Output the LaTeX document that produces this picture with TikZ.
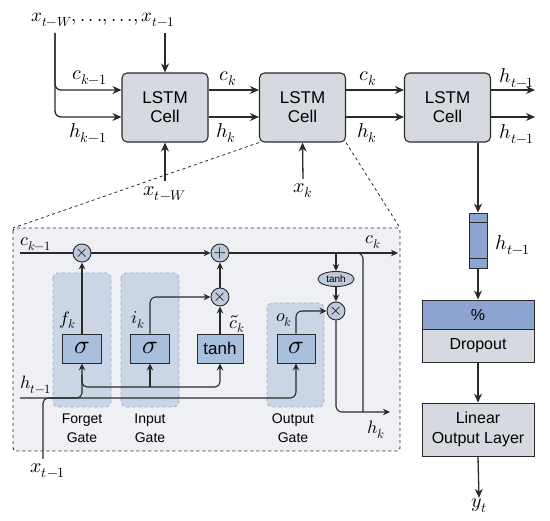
\documentclass[tikz,border=0pt]{standalone}
\usepackage{fontspec}
\usepackage{unicode-math}
\setsansfont{Liberation Sans}
\usetikzlibrary{arrows.meta, positioning, calc, shapes.geometric}
\definecolor{cellgray}{HTML}{D6DAE0}
\definecolor{inkline}{HTML}{2A2A2A}
\definecolor{panelbg}{HTML}{EEF0F4}
\definecolor{zonefill}{HTML}{CAD6E6}
\definecolor{zoneedge}{HTML}{9DAEC4}
\definecolor{gateblue}{HTML}{A8C0DB}
\definecolor{opfill}{HTML}{BDCADB}
\definecolor{vecblue}{HTML}{8EA4D0}
\newcommand{\sdots}{.\,.\,.}
\tikzset{
	cell/.style={draw=inkline, fill=cellgray, rounded corners=5pt, line width=1.1pt,
		minimum width=86pt, minimum height=69pt, align=center,
		font=\sffamily\fontsize{17}{19}\selectfont}
}
\tikzset{
	flow/.style={draw=inkline, line width=1.3pt, -{Stealth[length=9pt,width=8pt]}},
	iflow/.style={draw=inkline, line width=1.1pt, -{Stealth[length=7pt,width=6.5pt]}},
	wire/.style={draw=inkline, line width=1.1pt},
	mlbl/.style={font=\fontsize{20}{22}\selectfont, inner sep=1pt},
	ilbl/.style={font=\fontsize{18}{20}\selectfont, inner sep=1pt},
	gatebox/.style={draw=inkline, fill=gateblue, line width=0.9pt, minimum width=39pt,
		minimum height=29pt, inner sep=0pt, font=\fontsize{26}{28}\selectfont},
	opnode/.style={circle, draw=inkline, fill=opfill, line width=0.9pt, minimum size=18pt,
		inner sep=0pt, font=\fontsize{17}{18}\selectfont},
	gatezone/.style={draw=zoneedge, fill=zonefill, dashed, line width=0.8pt, rounded corners=5pt},
	gatetext/.style={font=\sffamily\fontsize{14}{19}\selectfont, align=center},
	headbox/.style={draw=inkline, line width=0.9pt, minimum width=112pt, inner sep=0pt,
		font=\sffamily\fontsize{16}{20}\selectfont, align=center}
}

\begin{document}
\begin{tikzpicture}[x=1pt, y=-1pt]
  \useasboundingbox (0,0) rectangle (550,521);
  \coordinate (rowc) at (0,90);
  \coordinate (rowh) at (0,117);

  % unrolled LSTM chain
  \node[mlbl, font=\fontsize{19}{21}\selectfont] (xseq) at (103,20) {$x_{t-W},\sdots,\sdots,x_{t-1}$};
  \coordinate (seqL) at (55,33);
  \coordinate (seqR) at (165,33);
  \node[cell] (cellA) at (165,107.5) {LSTM\\Cell};
  \node[cell] (cellB) at (302.5,107.5) {LSTM\\Cell};
  \node[cell] (cellC) at (447.5,107.5) {LSTM\\Cell};

  \draw[flow, rounded corners=6pt] (seqL) |- (cellA.west |- rowc);
  \draw[flow, rounded corners=6pt] (seqL) |- (cellA.west |- rowh);
  \draw[flow] (seqR) -- (cellA.north);
  \draw[flow] (cellA.east |- rowc) -- (cellB.west |- rowc);
  \draw[flow] (cellA.east |- rowh) -- (cellB.west |- rowh);
  \draw[flow] (cellB.east |- rowc) -- (cellC.west |- rowc);
  \draw[flow] (cellB.east |- rowh) -- (cellC.west |- rowh);
  \coordinate (outc) at (535,90);
  \coordinate (outh) at (535,117);
  \draw[flow] (cellC.east |- rowc) -- (outc);
  \draw[flow] (cellC.east |- rowh) -- (outh);

  \node[mlbl] (lck1) at (90,78) {$c_{k-1}$};
  \node[mlbl] (lhk1) at (88,133) {$h_{k-1}$};
  \node[mlbl] (lcA) at (228,79) {$c_k$};
  \node[mlbl] (lhA) at (226,133) {$h_k$};
  \node[mlbl] (lcB) at (368,79) {$c_k$};
  \node[mlbl] (lhB) at (367,133) {$h_k$};
  \node[mlbl] (loc) at (517,78) {$h_{t-1}$};
  \node[mlbl] (loh) at (517,134) {$h_{t-1}$};

  \node[mlbl] (xW) at (165,194) {$x_{t-W}$};
  \node[mlbl] (xk) at (303,191) {$x_k$};
  \draw[flow] (165,181) -- (cellA.south);
  \draw[flow] (303,179) -- (cellB.south);

  % zoomed cell
  \coordinate (pNW) at (13,228);
  \coordinate (pSE) at (400,451);
  \draw[inkline, dashed, line width=0.9pt, fill=panelbg, rounded corners=3pt] (pNW) rectangle (pSE);
  \draw[inkline, dashed, line width=0.8pt] (cellB.south west) -- (pNW);
  \draw[inkline, dashed, line width=0.8pt] (cellB.south east) -- (pNW -| pSE);

  \foreach \xa/\xb/\ya in {53/111/273, 121/179/273, 267/324/303}
    \draw[gatezone] (\xa,\ya) rectangle (\xb,407);

  \node[gatebox] (fsig) at (82,348.5) {$\sigma$};
  \node[gatebox] (isig) at (150,348.5) {$\sigma$};
  \node[gatebox, minimum width=46pt, font=\sffamily\fontsize{17}{19}\selectfont] (tbox) at (220,348.5) {tanh};
  \node[gatebox, minimum width=38pt] (osig) at (296,348.5) {$\sigma$};

  \node[opnode] (mulf) at (82,253) {$\times$};
  \node[opnode] (addc) at (220,253) {$+$};
  \node[opnode] (muli) at (220,297) {$\times$};
  \node[opnode] (mulo) at (336,311) {$\times$};
  \node[ellipse, draw=inkline, fill=opfill, line width=0.9pt, minimum width=36pt, minimum height=15pt,
    inner sep=0pt, font=\sffamily\fontsize{10}{11}\selectfont] (tanhc) at (336,279) {tanh};

  \coordinate (ckin) at (20,253);
  \coordinate (ckout) at (398,253);
  \coordinate (htin) at (20,398);
  \coordinate (hxrow) at (0,387);
  \coordinate (xin) at (43,459);
  \coordinate (hkout) at (390,412);

  \draw[wire] (ckin) -- (mulf);
  \draw[iflow] (mulf) -- (addc);
  \draw[iflow] (addc) -- (ckout);
  \draw[iflow] (tanhc.north |- ckout) -- (tanhc.north);
  \draw[iflow] (tanhc.south) -- (mulo.north);
  \draw[wire, rounded corners=6pt] (350,253) -- (363,253) -- (363,412);
  \draw[iflow, rounded corners=6pt] (mulo.south) |- (hkout);

  \draw[iflow] (fsig.north) -- (mulf.south);
  \draw[iflow, rounded corners=6pt] (isig.north) |- (muli.west);
  \draw[iflow] (tbox.north) -- (muli.south);
  \draw[iflow] (muli.north) -- (addc.south);
  \draw[iflow, rounded corners=6pt] (osig.north) |- (mulo.west);

  \draw[iflow, rounded corners=6pt] (htin) -| (osig.south);
  \draw[iflow, rounded corners=5pt] (xin) |- (fsig.south |- htin) -- (fsig.south);
  \draw[iflow, rounded corners=5pt] (82,375) |- (tbox.south |- hxrow) -- (tbox.south);
  \draw[iflow] (isig.south |- hxrow) -- (isig.south);

  \node[ilbl] (lcin) at (36,244) {$c_{k-1}$};
  \node[ilbl] (lcout) at (373,242) {$c_k$};
  \node[ilbl] (lhin) at (36,385) {$h_{t-1}$};
  \node[ilbl] (lhout) at (376,430) {$h_k$};
  \node[ilbl] (lf) at (68,320) {$f_k$};
  \node[ilbl] (li) at (138,320) {$i_k$};
  \node[ilbl] (lct) at (237,324) {$\tilde{c}_k$};
  \node[ilbl] (lo) at (284,320) {$o_k$};
  \node[mlbl] (lxin) at (48,471) {$x_{t-1}$};

  \node[gatetext] (gF) at (82,428) {Forget\\Gate};
  \node[gatetext] (gI) at (150,428) {Input\\Gate};
  \node[gatetext] (gO) at (293,428) {Output\\Gate};

  % output head
  \node[draw=inkline, fill=vecblue, line width=0.9pt, minimum width=18pt, minimum height=55pt,
    inner sep=0pt] (hvec) at (478,240.5) {};
  \draw[inkline, line width=0.9pt] (469,222.3) -- (487,222.3) (469,258.7) -- (487,258.7);
  \node[mlbl] (lvec) at (513,245) {$h_{t-1}$};
  \draw[flow] (hvec.north |- cellC.south) -- (hvec.north);

  \node[headbox, fill=vecblue, minimum height=29pt] (dtop) at (478,314.5) {\%};
  \node[headbox, fill=cellgray, minimum height=33pt] (dbot) at (478,345.5) {Dropout};
  \node[headbox, fill=cellgray, minimum height=53pt] (lin) at (478,429.5) {Linear\\Output Layer};
  \draw[flow] (hvec.south) -- (dtop.north);
  \draw[flow] (dbot.south) -- (lin.north);
  \node[mlbl] (yt) at (479,506) {$y_t$};
  \draw[flow] (lin.south) -- (yt.north);
\end{tikzpicture}
\end{document}
